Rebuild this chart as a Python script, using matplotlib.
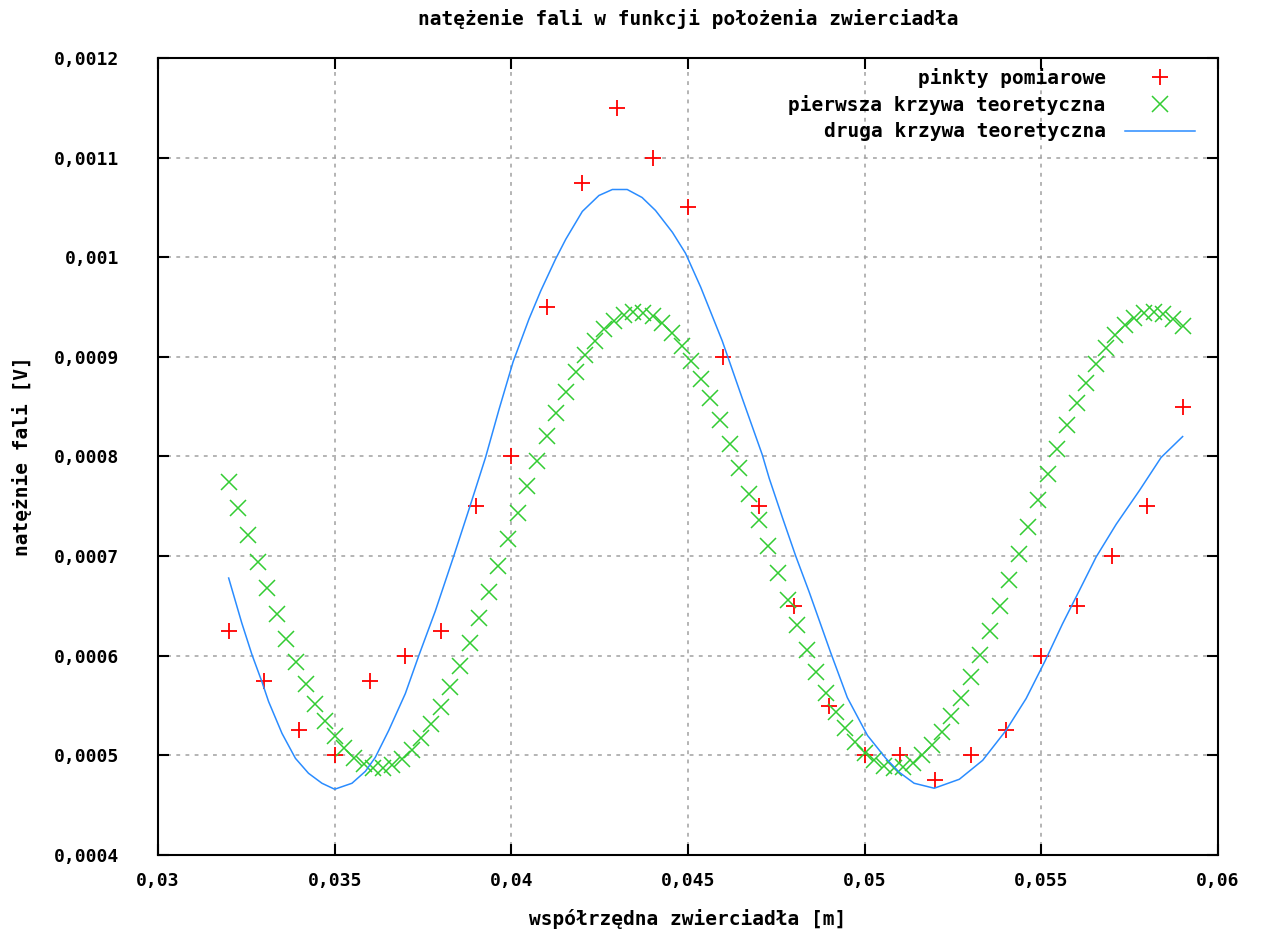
import numpy as np
import matplotlib.pyplot as plt
from matplotlib.ticker import FuncFormatter

# measured points
x_pts = [0.032, 0.033, 0.034, 0.035, 0.036, 0.037, 0.038, 0.039, 0.040, 0.041,
         0.042, 0.043, 0.044, 0.045, 0.046, 0.047, 0.048, 0.049, 0.050, 0.051,
         0.052, 0.053, 0.054, 0.055, 0.056, 0.057, 0.058, 0.059]
y_pts = [0.000625, 0.000575, 0.000525, 0.0005, 0.000575, 0.0006, 0.000625, 0.00075,
         0.0008, 0.00095, 0.001075, 0.00115, 0.0011, 0.00105, 0.0009, 0.00075,
         0.00065, 0.00055, 0.0005, 0.0005, 0.000475, 0.0005, 0.000525, 0.0006,
         0.00065, 0.0007, 0.00075, 0.00085]

# first theoretical curve, 100 samples over [0.032, 0.059]
x_t1 = np.linspace(0.032, 0.059, 100)
y_t1 = np.array([
    7.745, 7.481, 7.214, 6.945, 6.680, 6.422, 6.172, 5.936, 5.719, 5.520,
    5.344, 5.193, 5.070, 4.974, 4.909, 4.875, 4.873, 4.902, 4.962, 5.052,
    5.171, 5.317, 5.489, 5.684, 5.900, 6.132, 6.380, 6.636, 6.901, 7.169,
    7.437, 7.701, 7.959, 8.206, 8.437, 8.650, 8.844, 9.014, 9.160, 9.278,
    9.364, 9.422, 9.448, 9.442, 9.406, 9.338, 9.240, 9.113, 8.960, 8.782,
    8.583, 8.365, 8.130, 7.884, 7.628, 7.367, 7.097, 6.830, 6.564, 6.306,
    6.061, 5.832, 5.622, 5.433, 5.271, 5.135, 5.028, 4.950, 4.898, 4.870,
    4.882, 4.926, 5.000, 5.104, 5.236, 5.394, 5.577, 5.782, 6.004, 6.244,
    6.497, 6.758, 7.025, 7.294, 7.561, 7.822, 8.073, 8.313, 8.539, 8.742,
    8.926, 9.085, 9.217, 9.320, 9.394, 9.438, 9.450, 9.431, 9.382, 9.305]) * 1e-4

# second theoretical curve
x_t2 = [0.0320, 0.03237, 0.03266, 0.03294, 0.03313, 0.03351, 0.03389, 0.03426,
        0.03464, 0.0350, 0.03549, 0.03587, 0.03615, 0.03653, 0.0370, 0.03738,
        0.03785, 0.03837, 0.03882, 0.03927, 0.03965, 0.04005, 0.0405, 0.04083,
        0.04125, 0.04154, 0.04201, 0.04248, 0.04286, 0.04328, 0.0437, 0.04408,
        0.04456, 0.04493, 0.04536, 0.04597, 0.04654, 0.0471, 0.0473, 0.04767,
        0.04805, 0.04843, 0.04904, 0.04951, 0.05008, 0.0506, 0.05098, 0.0514,
        0.05197, 0.05268, 0.05334, 0.054, 0.05457, 0.05511, 0.0556, 0.05607,
        0.05655, 0.05712, 0.05778, 0.05839, 0.0590]
y_t2 = [0.000678, 0.000633, 0.000601, 0.000574, 0.000554, 0.000522, 0.000497, 0.000482,
        0.000472, 0.000466, 0.000472, 0.000484, 0.000498, 0.000525, 0.000562, 0.0006,
        0.000645, 0.0007, 0.000749, 0.000799, 0.000847, 0.000895, 0.000938, 0.000966,
        0.000998, 0.001018, 0.001046, 0.001062, 0.001068, 0.001068, 0.00106, 0.001047,
        0.001025, 0.001004, 0.000970, 0.000916, 0.000858, 0.000802, 0.000778, 0.000739,
        0.0007, 0.000664, 0.000603, 0.000558, 0.00052, 0.000497, 0.000483, 0.000472,
        0.000467, 0.000476, 0.000495, 0.000525, 0.000557, 0.000595, 0.000632, 0.000665,
        0.000699, 0.000732, 0.000766, 0.000799, 0.00082]

plt.rcParams['font.family'] = 'DejaVu Sans Mono'
plt.rcParams['font.weight'] = 'bold'

fig = plt.figure(figsize=(12.62, 9.34), dpi=100)
ax = fig.add_axes([0.1252, 0.0846, 0.8399, 0.8533])

ax.plot(x_pts, y_pts, '+', color='#ff0000', ms=11, mew=1.3, label='pinkty pomiarowe')
ax.plot(x_t1, y_t1, 'x', color='#33cc33', ms=11, mew=1.1, label='pierwsza krzywa teoretyczna')
ax.plot(x_t2, y_t2, '-', color='#2a8cff', lw=1.1, label='druga krzywa teoretyczna')

ax.set_xlim(0.03, 0.06)
ax.set_ylim(0.0004, 0.0012)
ax.set_xticks(np.arange(0.03, 0.0601, 0.005))
ax.set_yticks(np.arange(0.0004, 0.00121, 0.0001))
comma = FuncFormatter(lambda v, p: ('%g' % round(v, 6)).replace('.', ','))
ax.xaxis.set_major_formatter(comma)
ax.yaxis.set_major_formatter(comma)
ax.tick_params(direction='in', length=8, width=1.5, top=True, right=True, labelsize=13)
ax.tick_params(axis='y', pad=28)
ax.tick_params(axis='x', pad=12)
ax.grid(True, color='#a0a0a0', linestyle=(0, (2.5, 3.5)), lw=1.1)
for s in ax.spines.values():
    s.set_linewidth(1.5)

ax.set_title('natężenie fali w funkcji położenia zwierciadła', fontsize=14, fontweight='bold', pad=24)
ax.set_xlabel('współrzędna zwierciadła [m]', fontsize=14, fontweight='bold', labelpad=14)
ax.set_ylabel('natężnie fali [V]', fontsize=14, fontweight='bold', labelpad=16)

ax.legend(loc='upper right', bbox_to_anchor=(0.995, 1.01), frameon=False, markerfirst=False,
          fontsize=14, handlelength=3.6, labelspacing=0.38, handletextpad=1.0)

plt.savefig('out.png', dpi=100)
